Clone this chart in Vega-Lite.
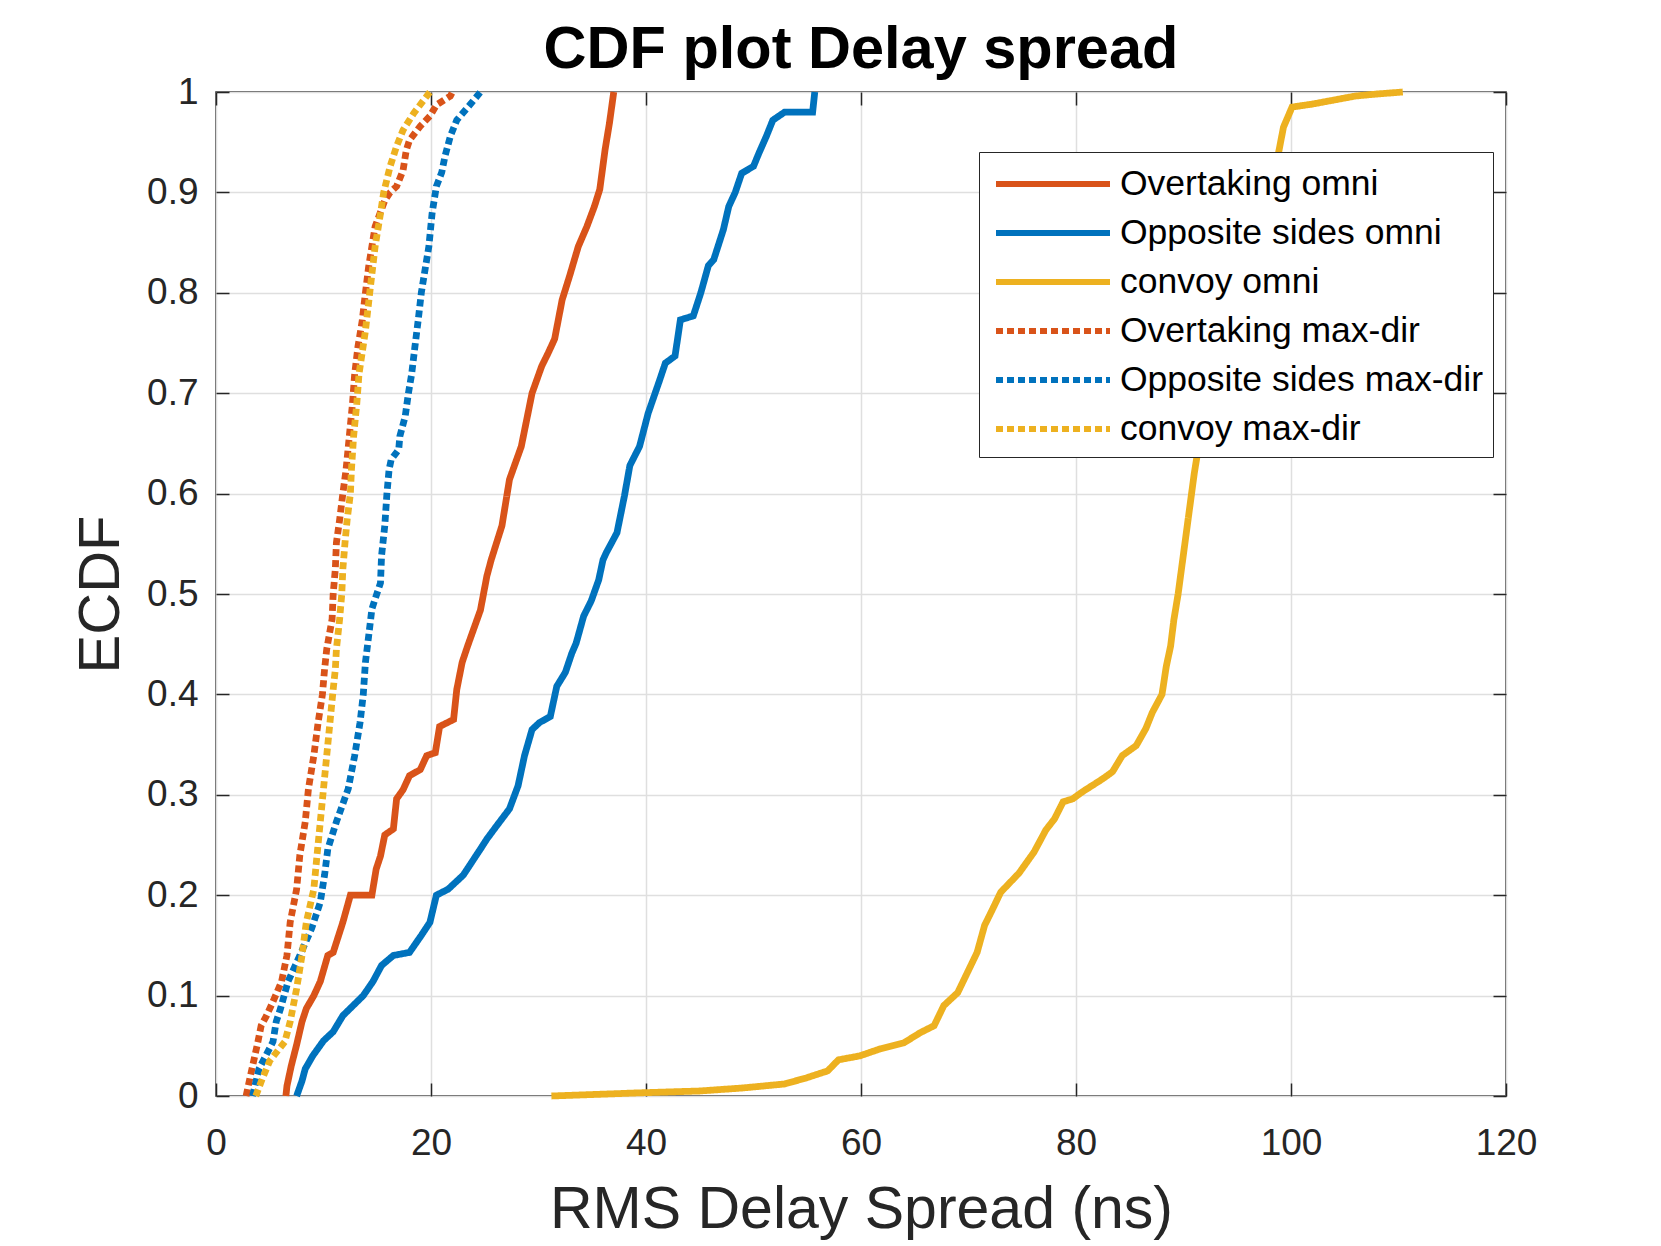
{
  "$schema": "https://vega.github.io/schema/vega-lite/v6.json",
  "width": 1290,
  "height": 1004,
  "autosize": {"type": "none"},
  "padding": {"left": 216, "top": 92, "right": 155, "bottom": 150},
  "background": "white",
  "config": {
    "font": "Liberation Sans",
    "view": {"stroke": "#262626", "strokeWidth": 1.5}
  },
  "title": {"text": "CDF plot Delay spread", "fontSize": 59.5, "fontWeight": "bold", "color": "black", "offset": 14, "dy": 21, "anchor": "middle", "frame": "group"},
  "datasets": {
    "cdf": [
      {"s": "Overtaking omni", "x": 6.5, "y": 0}, {"s": "Overtaking omni", "x": 6.6, "y": 0.01}, {"s": "Overtaking omni", "x": 7.0, "y": 0.03}, {"s": "Overtaking omni", "x": 7.5, "y": 0.051}, {"s": "Overtaking omni", "x": 8.0, "y": 0.074}, {"s": "Overtaking omni", "x": 8.4, "y": 0.087}, {"s": "Overtaking omni", "x": 9.1, "y": 0.1}, {"s": "Overtaking omni", "x": 9.7, "y": 0.114}, {"s": "Overtaking omni", "x": 10.4, "y": 0.14}, {"s": "Overtaking omni", "x": 10.9, "y": 0.143}, {"s": "Overtaking omni", "x": 11.8, "y": 0.173}, {"s": "Overtaking omni", "x": 12.5, "y": 0.2}, {"s": "Overtaking omni", "x": 14.5, "y": 0.2}, {"s": "Overtaking omni", "x": 14.9, "y": 0.226}, {"s": "Overtaking omni", "x": 15.3, "y": 0.239}, {"s": "Overtaking omni", "x": 15.7, "y": 0.26}, {"s": "Overtaking omni", "x": 16.5, "y": 0.266}, {"s": "Overtaking omni", "x": 16.8, "y": 0.296}, {"s": "Overtaking omni", "x": 17.4, "y": 0.305}, {"s": "Overtaking omni", "x": 18.0, "y": 0.319}, {"s": "Overtaking omni", "x": 19.0, "y": 0.325}, {"s": "Overtaking omni", "x": 19.6, "y": 0.339}, {"s": "Overtaking omni", "x": 20.4, "y": 0.342}, {"s": "Overtaking omni", "x": 20.8, "y": 0.368}, {"s": "Overtaking omni", "x": 22.1, "y": 0.375}, {"s": "Overtaking omni", "x": 22.4, "y": 0.405}, {"s": "Overtaking omni", "x": 22.9, "y": 0.432}, {"s": "Overtaking omni", "x": 23.4, "y": 0.448}, {"s": "Overtaking omni", "x": 24.6, "y": 0.484}, {"s": "Overtaking omni", "x": 25.2, "y": 0.518}, {"s": "Overtaking omni", "x": 25.6, "y": 0.534}, {"s": "Overtaking omni", "x": 26.6, "y": 0.568}, {"s": "Overtaking omni", "x": 27.3, "y": 0.614}, {"s": "Overtaking omni", "x": 28.4, "y": 0.647}, {"s": "Overtaking omni", "x": 29.4, "y": 0.7}, {"s": "Overtaking omni", "x": 30.3, "y": 0.727}, {"s": "Overtaking omni", "x": 30.9, "y": 0.74}, {"s": "Overtaking omni", "x": 31.5, "y": 0.754}, {"s": "Overtaking omni", "x": 32.2, "y": 0.793}, {"s": "Overtaking omni", "x": 32.9, "y": 0.817}, {"s": "Overtaking omni", "x": 33.7, "y": 0.846}, {"s": "Overtaking omni", "x": 34.5, "y": 0.866}, {"s": "Overtaking omni", "x": 35.2, "y": 0.886}, {"s": "Overtaking omni", "x": 35.7, "y": 0.903}, {"s": "Overtaking omni", "x": 36.2, "y": 0.943}, {"s": "Overtaking omni", "x": 36.6, "y": 0.969}, {"s": "Overtaking omni", "x": 37.0, "y": 1.0},

      {"s": "Opposite sides omni", "x": 7.5, "y": 0}, {"s": "Opposite sides omni", "x": 8.0, "y": 0.015}, {"s": "Opposite sides omni", "x": 8.3, "y": 0.027}, {"s": "Opposite sides omni", "x": 9.0, "y": 0.04}, {"s": "Opposite sides omni", "x": 10.0, "y": 0.055}, {"s": "Opposite sides omni", "x": 10.9, "y": 0.064}, {"s": "Opposite sides omni", "x": 11.8, "y": 0.08}, {"s": "Opposite sides omni", "x": 13.7, "y": 0.1}, {"s": "Opposite sides omni", "x": 14.6, "y": 0.114}, {"s": "Opposite sides omni", "x": 15.4, "y": 0.13}, {"s": "Opposite sides omni", "x": 16.5, "y": 0.14}, {"s": "Opposite sides omni", "x": 18.0, "y": 0.143}, {"s": "Opposite sides omni", "x": 19.1, "y": 0.16}, {"s": "Opposite sides omni", "x": 19.9, "y": 0.173}, {"s": "Opposite sides omni", "x": 20.5, "y": 0.2}, {"s": "Opposite sides omni", "x": 21.6, "y": 0.206}, {"s": "Opposite sides omni", "x": 23.0, "y": 0.22}, {"s": "Opposite sides omni", "x": 23.8, "y": 0.233}, {"s": "Opposite sides omni", "x": 24.6, "y": 0.246}, {"s": "Opposite sides omni", "x": 25.2, "y": 0.256}, {"s": "Opposite sides omni", "x": 26.1, "y": 0.269}, {"s": "Opposite sides omni", "x": 27.3, "y": 0.286}, {"s": "Opposite sides omni", "x": 28.1, "y": 0.309}, {"s": "Opposite sides omni", "x": 28.7, "y": 0.339}, {"s": "Opposite sides omni", "x": 29.4, "y": 0.365}, {"s": "Opposite sides omni", "x": 30.1, "y": 0.372}, {"s": "Opposite sides omni", "x": 31.1, "y": 0.378}, {"s": "Opposite sides omni", "x": 31.7, "y": 0.408}, {"s": "Opposite sides omni", "x": 32.5, "y": 0.422}, {"s": "Opposite sides omni", "x": 33.1, "y": 0.441}, {"s": "Opposite sides omni", "x": 33.5, "y": 0.451}, {"s": "Opposite sides omni", "x": 34.2, "y": 0.478}, {"s": "Opposite sides omni", "x": 34.9, "y": 0.493}, {"s": "Opposite sides omni", "x": 35.6, "y": 0.514}, {"s": "Opposite sides omni", "x": 36.0, "y": 0.534}, {"s": "Opposite sides omni", "x": 36.3, "y": 0.541}, {"s": "Opposite sides omni", "x": 37.3, "y": 0.561}, {"s": "Opposite sides omni", "x": 38.0, "y": 0.598}, {"s": "Opposite sides omni", "x": 38.5, "y": 0.628}, {"s": "Opposite sides omni", "x": 39.4, "y": 0.647}, {"s": "Opposite sides omni", "x": 40.2, "y": 0.68}, {"s": "Opposite sides omni", "x": 41.3, "y": 0.714}, {"s": "Opposite sides omni", "x": 41.8, "y": 0.73}, {"s": "Opposite sides omni", "x": 42.7, "y": 0.737}, {"s": "Opposite sides omni", "x": 43.2, "y": 0.773}, {"s": "Opposite sides omni", "x": 44.4, "y": 0.777}, {"s": "Opposite sides omni", "x": 45.1, "y": 0.8}, {"s": "Opposite sides omni", "x": 45.8, "y": 0.827}, {"s": "Opposite sides omni", "x": 46.3, "y": 0.833}, {"s": "Opposite sides omni", "x": 47.2, "y": 0.863}, {"s": "Opposite sides omni", "x": 47.7, "y": 0.886}, {"s": "Opposite sides omni", "x": 48.3, "y": 0.9}, {"s": "Opposite sides omni", "x": 48.9, "y": 0.919}, {"s": "Opposite sides omni", "x": 50.0, "y": 0.926}, {"s": "Opposite sides omni", "x": 50.5, "y": 0.939}, {"s": "Opposite sides omni", "x": 51.2, "y": 0.956}, {"s": "Opposite sides omni", "x": 51.8, "y": 0.972}, {"s": "Opposite sides omni", "x": 52.9, "y": 0.98}, {"s": "Opposite sides omni", "x": 55.5, "y": 0.98}, {"s": "Opposite sides omni", "x": 55.7, "y": 1.0},

      {"s": "convoy omni", "x": 31.2, "y": 0}, {"s": "convoy omni", "x": 39.0, "y": 0.003}, {"s": "convoy omni", "x": 45.0, "y": 0.005}, {"s": "convoy omni", "x": 49.0, "y": 0.008}, {"s": "convoy omni", "x": 52.9, "y": 0.012}, {"s": "convoy omni", "x": 54.9, "y": 0.018}, {"s": "convoy omni", "x": 56.9, "y": 0.025}, {"s": "convoy omni", "x": 57.9, "y": 0.036}, {"s": "convoy omni", "x": 59.9, "y": 0.04}, {"s": "convoy omni", "x": 61.8, "y": 0.047}, {"s": "convoy omni", "x": 64.0, "y": 0.053}, {"s": "convoy omni", "x": 65.5, "y": 0.063}, {"s": "convoy omni", "x": 66.8, "y": 0.07}, {"s": "convoy omni", "x": 67.7, "y": 0.09}, {"s": "convoy omni", "x": 69.0, "y": 0.103}, {"s": "convoy omni", "x": 69.9, "y": 0.123}, {"s": "convoy omni", "x": 70.8, "y": 0.143}, {"s": "convoy omni", "x": 71.5, "y": 0.17}, {"s": "convoy omni", "x": 72.1, "y": 0.183}, {"s": "convoy omni", "x": 73.0, "y": 0.203}, {"s": "convoy omni", "x": 74.7, "y": 0.222}, {"s": "convoy omni", "x": 76.1, "y": 0.243}, {"s": "convoy omni", "x": 77.2, "y": 0.265}, {"s": "convoy omni", "x": 78.0, "y": 0.276}, {"s": "convoy omni", "x": 78.8, "y": 0.293}, {"s": "convoy omni", "x": 79.7, "y": 0.296}, {"s": "convoy omni", "x": 80.6, "y": 0.303}, {"s": "convoy omni", "x": 82.5, "y": 0.316}, {"s": "convoy omni", "x": 83.4, "y": 0.323}, {"s": "convoy omni", "x": 84.3, "y": 0.339}, {"s": "convoy omni", "x": 85.6, "y": 0.349}, {"s": "convoy omni", "x": 86.5, "y": 0.366}, {"s": "convoy omni", "x": 87.1, "y": 0.382}, {"s": "convoy omni", "x": 88.0, "y": 0.4}, {"s": "convoy omni", "x": 88.4, "y": 0.428}, {"s": "convoy omni", "x": 88.8, "y": 0.448}, {"s": "convoy omni", "x": 89.1, "y": 0.474}, {"s": "convoy omni", "x": 89.5, "y": 0.5}, {"s": "convoy omni", "x": 90.0, "y": 0.54}, {"s": "convoy omni", "x": 90.5, "y": 0.58}, {"s": "convoy omni", "x": 91.0, "y": 0.62}, {"s": "convoy omni", "x": 91.6, "y": 0.66}, {"s": "convoy omni", "x": 93.0, "y": 0.72}, {"s": "convoy omni", "x": 95.0, "y": 0.8}, {"s": "convoy omni", "x": 97.0, "y": 0.87}, {"s": "convoy omni", "x": 98.6, "y": 0.926}, {"s": "convoy omni", "x": 99.3, "y": 0.965}, {"s": "convoy omni", "x": 100.1, "y": 0.985}, {"s": "convoy omni", "x": 102.0, "y": 0.988}, {"s": "convoy omni", "x": 104.0, "y": 0.992}, {"s": "convoy omni", "x": 106.0, "y": 0.996}, {"s": "convoy omni", "x": 108.0, "y": 0.998}, {"s": "convoy omni", "x": 110.4, "y": 1.0},

      {"s": "Overtaking max-dir", "x": 2.8, "y": 0}, {"s": "Overtaking max-dir", "x": 3.2, "y": 0.02}, {"s": "Overtaking max-dir", "x": 3.9, "y": 0.054}, {"s": "Overtaking max-dir", "x": 4.2, "y": 0.07}, {"s": "Overtaking max-dir", "x": 4.7, "y": 0.08}, {"s": "Overtaking max-dir", "x": 5.3, "y": 0.094}, {"s": "Overtaking max-dir", "x": 6.1, "y": 0.114}, {"s": "Overtaking max-dir", "x": 6.6, "y": 0.14}, {"s": "Overtaking max-dir", "x": 6.9, "y": 0.173}, {"s": "Overtaking max-dir", "x": 7.5, "y": 0.206}, {"s": "Overtaking max-dir", "x": 7.8, "y": 0.24}, {"s": "Overtaking max-dir", "x": 8.3, "y": 0.273}, {"s": "Overtaking max-dir", "x": 8.6, "y": 0.306}, {"s": "Overtaking max-dir", "x": 9.1, "y": 0.339}, {"s": "Overtaking max-dir", "x": 9.5, "y": 0.372}, {"s": "Overtaking max-dir", "x": 9.9, "y": 0.4}, {"s": "Overtaking max-dir", "x": 10.1, "y": 0.425}, {"s": "Overtaking max-dir", "x": 10.3, "y": 0.445}, {"s": "Overtaking max-dir", "x": 10.8, "y": 0.475}, {"s": "Overtaking max-dir", "x": 10.9, "y": 0.5}, {"s": "Overtaking max-dir", "x": 11.1, "y": 0.525}, {"s": "Overtaking max-dir", "x": 11.2, "y": 0.551}, {"s": "Overtaking max-dir", "x": 11.5, "y": 0.574}, {"s": "Overtaking max-dir", "x": 11.8, "y": 0.6}, {"s": "Overtaking max-dir", "x": 12.1, "y": 0.624}, {"s": "Overtaking max-dir", "x": 12.4, "y": 0.657}, {"s": "Overtaking max-dir", "x": 12.7, "y": 0.69}, {"s": "Overtaking max-dir", "x": 12.9, "y": 0.719}, {"s": "Overtaking max-dir", "x": 13.2, "y": 0.746}, {"s": "Overtaking max-dir", "x": 13.6, "y": 0.772}, {"s": "Overtaking max-dir", "x": 13.9, "y": 0.8}, {"s": "Overtaking max-dir", "x": 14.2, "y": 0.826}, {"s": "Overtaking max-dir", "x": 14.8, "y": 0.866}, {"s": "Overtaking max-dir", "x": 15.7, "y": 0.892}, {"s": "Overtaking max-dir", "x": 16.2, "y": 0.9}, {"s": "Overtaking max-dir", "x": 16.8, "y": 0.906}, {"s": "Overtaking max-dir", "x": 17.4, "y": 0.922}, {"s": "Overtaking max-dir", "x": 17.7, "y": 0.942}, {"s": "Overtaking max-dir", "x": 18.0, "y": 0.952}, {"s": "Overtaking max-dir", "x": 19.0, "y": 0.966}, {"s": "Overtaking max-dir", "x": 19.9, "y": 0.976}, {"s": "Overtaking max-dir", "x": 20.5, "y": 0.987}, {"s": "Overtaking max-dir", "x": 21.8, "y": 0.996}, {"s": "Overtaking max-dir", "x": 22.0, "y": 1.0},

      {"s": "Opposite sides max-dir", "x": 3.4, "y": 0}, {"s": "Opposite sides max-dir", "x": 4.0, "y": 0.027}, {"s": "Opposite sides max-dir", "x": 5.3, "y": 0.054}, {"s": "Opposite sides max-dir", "x": 5.6, "y": 0.074}, {"s": "Opposite sides max-dir", "x": 6.0, "y": 0.087}, {"s": "Opposite sides max-dir", "x": 6.7, "y": 0.114}, {"s": "Opposite sides max-dir", "x": 7.8, "y": 0.14}, {"s": "Opposite sides max-dir", "x": 8.9, "y": 0.167}, {"s": "Opposite sides max-dir", "x": 9.7, "y": 0.193}, {"s": "Opposite sides max-dir", "x": 10.1, "y": 0.22}, {"s": "Opposite sides max-dir", "x": 10.4, "y": 0.246}, {"s": "Opposite sides max-dir", "x": 11.2, "y": 0.273}, {"s": "Opposite sides max-dir", "x": 12.3, "y": 0.306}, {"s": "Opposite sides max-dir", "x": 12.9, "y": 0.339}, {"s": "Opposite sides max-dir", "x": 13.4, "y": 0.372}, {"s": "Opposite sides max-dir", "x": 13.7, "y": 0.4}, {"s": "Opposite sides max-dir", "x": 13.9, "y": 0.432}, {"s": "Opposite sides max-dir", "x": 14.2, "y": 0.458}, {"s": "Opposite sides max-dir", "x": 14.5, "y": 0.485}, {"s": "Opposite sides max-dir", "x": 14.8, "y": 0.495}, {"s": "Opposite sides max-dir", "x": 15.3, "y": 0.511}, {"s": "Opposite sides max-dir", "x": 15.4, "y": 0.538}, {"s": "Opposite sides max-dir", "x": 15.7, "y": 0.568}, {"s": "Opposite sides max-dir", "x": 15.9, "y": 0.6}, {"s": "Opposite sides max-dir", "x": 16.1, "y": 0.624}, {"s": "Opposite sides max-dir", "x": 16.3, "y": 0.634}, {"s": "Opposite sides max-dir", "x": 17.0, "y": 0.644}, {"s": "Opposite sides max-dir", "x": 17.1, "y": 0.657}, {"s": "Opposite sides max-dir", "x": 17.6, "y": 0.677}, {"s": "Opposite sides max-dir", "x": 17.9, "y": 0.7}, {"s": "Opposite sides max-dir", "x": 18.2, "y": 0.719}, {"s": "Opposite sides max-dir", "x": 18.5, "y": 0.746}, {"s": "Opposite sides max-dir", "x": 18.8, "y": 0.772}, {"s": "Opposite sides max-dir", "x": 19.1, "y": 0.8}, {"s": "Opposite sides max-dir", "x": 19.4, "y": 0.82}, {"s": "Opposite sides max-dir", "x": 19.8, "y": 0.846}, {"s": "Opposite sides max-dir", "x": 20.1, "y": 0.879}, {"s": "Opposite sides max-dir", "x": 20.5, "y": 0.906}, {"s": "Opposite sides max-dir", "x": 21.0, "y": 0.92}, {"s": "Opposite sides max-dir", "x": 21.3, "y": 0.936}, {"s": "Opposite sides max-dir", "x": 21.8, "y": 0.956}, {"s": "Opposite sides max-dir", "x": 22.4, "y": 0.972}, {"s": "Opposite sides max-dir", "x": 23.6, "y": 0.987}, {"s": "Opposite sides max-dir", "x": 24.6, "y": 1.0},

      {"s": "convoy max-dir", "x": 3.7, "y": 0}, {"s": "convoy max-dir", "x": 4.3, "y": 0.017}, {"s": "convoy max-dir", "x": 5.0, "y": 0.035}, {"s": "convoy max-dir", "x": 6.4, "y": 0.054}, {"s": "convoy max-dir", "x": 6.9, "y": 0.074}, {"s": "convoy max-dir", "x": 7.5, "y": 0.107}, {"s": "convoy max-dir", "x": 8.0, "y": 0.14}, {"s": "convoy max-dir", "x": 8.4, "y": 0.173}, {"s": "convoy max-dir", "x": 9.1, "y": 0.206}, {"s": "convoy max-dir", "x": 9.4, "y": 0.24}, {"s": "convoy max-dir", "x": 9.7, "y": 0.273}, {"s": "convoy max-dir", "x": 10.0, "y": 0.306}, {"s": "convoy max-dir", "x": 10.3, "y": 0.339}, {"s": "convoy max-dir", "x": 10.6, "y": 0.372}, {"s": "convoy max-dir", "x": 10.9, "y": 0.405}, {"s": "convoy max-dir", "x": 11.1, "y": 0.425}, {"s": "convoy max-dir", "x": 11.2, "y": 0.445}, {"s": "convoy max-dir", "x": 11.5, "y": 0.475}, {"s": "convoy max-dir", "x": 11.7, "y": 0.5}, {"s": "convoy max-dir", "x": 11.8, "y": 0.525}, {"s": "convoy max-dir", "x": 12.0, "y": 0.551}, {"s": "convoy max-dir", "x": 12.2, "y": 0.574}, {"s": "convoy max-dir", "x": 12.5, "y": 0.6}, {"s": "convoy max-dir", "x": 12.6, "y": 0.624}, {"s": "convoy max-dir", "x": 12.8, "y": 0.657}, {"s": "convoy max-dir", "x": 13.1, "y": 0.69}, {"s": "convoy max-dir", "x": 13.3, "y": 0.719}, {"s": "convoy max-dir", "x": 13.9, "y": 0.762}, {"s": "convoy max-dir", "x": 14.3, "y": 0.8}, {"s": "convoy max-dir", "x": 14.8, "y": 0.846}, {"s": "convoy max-dir", "x": 15.3, "y": 0.879}, {"s": "convoy max-dir", "x": 15.6, "y": 0.9}, {"s": "convoy max-dir", "x": 16.2, "y": 0.926}, {"s": "convoy max-dir", "x": 16.8, "y": 0.946}, {"s": "convoy max-dir", "x": 17.4, "y": 0.962}, {"s": "convoy max-dir", "x": 18.4, "y": 0.979}, {"s": "convoy max-dir", "x": 19.9, "y": 1.0}
    ]
  },
  "data": {"name": "cdf"},
  "resolve": {"axis": {"x": "independent", "y": "independent"}},
  "layer": [
    {
      "mark": {"type": "line", "strokeOpacity": 0},
      "encoding": {
        "x": {"field": "x", "type": "quantitative", "scale": {"domain": [0, 120], "nice": false, "zero": false},
          "axis": {"orient": "top", "values": [0, 20, 40, 60, 80, 100, 120], "labels": false, "title": null, "grid": false, "domain": false, "tickSize": -13, "tickColor": "#262626", "tickWidth": 1.5}},
        "y": {"field": "y", "type": "quantitative", "scale": {"domain": [0, 1], "nice": false, "zero": false},
          "axis": {"orient": "right", "values": [0, 0.1, 0.2, 0.3, 0.4, 0.5, 0.6, 0.7, 0.8, 0.9, 1], "labels": false, "title": null, "grid": false, "domain": false, "tickSize": -13, "tickColor": "#262626", "tickWidth": 1.5}},
        "detail": {"field": "s"}
      }
    },
    {
      "mark": {"type": "line", "strokeWidth": 6.8, "strokeCap": "butt", "strokeJoin": "miter"},
      "encoding": {
        "x": {"field": "x", "type": "quantitative", "scale": {"domain": [0, 120], "nice": false, "zero": false},
          "axis": {"orient": "bottom", "values": [0, 20, 40, 60, 80, 100, 120], "labelFlush": false, "title": "RMS Delay Spread (ns)", "grid": true, "gridColor": "#dfdfdf", "gridWidth": 1.5, "domain": false, "tickSize": -13, "tickColor": "#262626", "tickWidth": 1.5, "labelFontSize": 37, "labelColor": "#262626", "labelPadding": 42, "titleFontSize": 59, "titleFontWeight": "normal", "titleColor": "#262626", "titlePadding": 19}},
        "y": {"field": "y", "type": "quantitative", "scale": {"domain": [0, 1], "nice": false, "zero": false},
          "axis": {"orient": "left", "values": [0, 0.1, 0.2, 0.3, 0.4, 0.5, 0.6, 0.7, 0.8, 0.9, 1], "labelFlush": false, "format": "~g", "title": "ECDF", "grid": true, "gridColor": "#dfdfdf", "gridWidth": 1.5, "domain": false, "tickSize": -13, "tickColor": "#262626", "tickWidth": 1.5, "labelFontSize": 37, "labelColor": "#262626", "labelPadding": 31, "titleFontSize": 58, "titleFontWeight": "normal", "titleColor": "#262626", "titlePadding": 16}},
        "color": {"field": "s", "type": "nominal",
          "scale": {"domain": ["Overtaking omni", "Opposite sides omni", "convoy omni", "Overtaking max-dir", "Opposite sides max-dir", "convoy max-dir"],
                    "range": ["#D95319", "#0072BD", "#EDB120", "#D95319", "#0072BD", "#EDB120"]},
          "legend": {"orient": "none", "legendX": 763, "legendY": 60, "title": null, "fillColor": "white", "strokeColor": "#262626", "padding": 9, "labelFontSize": 35.5, "labelColor": "black", "symbolType": "M-2.85,0H2.85", "symbolSize": 1600, "symbolOffset": 42, "symbolStrokeWidth": 6, "labelOffset": 44, "rowPadding": 7, "labelLimit": 700}},
        "strokeDash": {"field": "s", "type": "nominal",
          "scale": {"domain": ["Overtaking omni", "Opposite sides omni", "convoy omni", "Overtaking max-dir", "Opposite sides max-dir", "convoy max-dir"],
                    "range": [[1, 0], [1, 0], [1, 0], [7, 4], [7, 4], [7, 4]]},
          "legend": {"orient": "none", "legendX": 763, "legendY": 60, "title": null, "fillColor": "white", "strokeColor": "#262626", "padding": 9, "labelFontSize": 35.5, "labelColor": "black", "symbolType": "M-2.85,0H2.85", "symbolSize": 1600, "symbolOffset": 42, "symbolStrokeWidth": 6, "labelOffset": 44, "rowPadding": 7, "labelLimit": 700}},
        "order": {"value": null}
      }
    }
  ]
}
